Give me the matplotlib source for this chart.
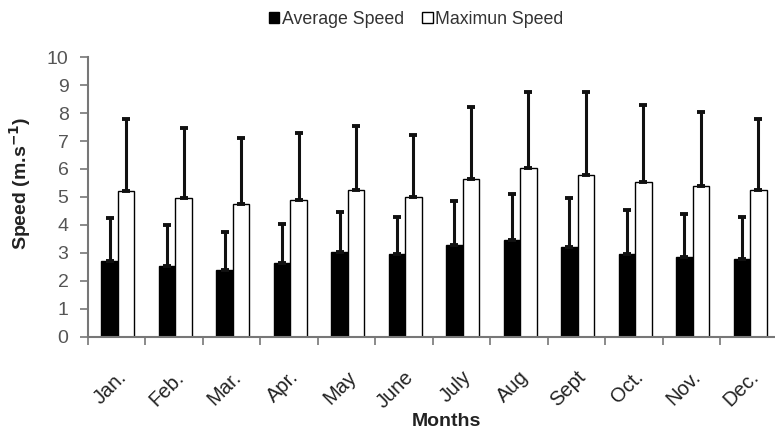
import numpy as np
import matplotlib.pyplot as plt
from matplotlib.transforms import ScaledTranslation

plt.rcParams['font.family'] = ['Liberation Sans', 'DejaVu Sans']

months = ['Jan.', 'Feb.', 'Mar.', 'Apr.', 'May', 'June', 'July', 'Aug', 'Sept', 'Oct.', 'Nov.', 'Dec.']
avg_speed = [2.7, 2.55, 2.4, 2.65, 3.05, 2.95, 3.3, 3.45, 3.2, 2.95, 2.85, 2.8]
avg_err = [1.55, 1.45, 1.35, 1.4, 1.4, 1.35, 1.55, 1.65, 1.75, 1.6, 1.55, 1.5]
max_speed = [5.2, 4.95, 4.75, 4.9, 5.25, 5.0, 5.65, 6.05, 5.8, 5.55, 5.4, 5.25]
max_err = [2.6, 2.5, 2.35, 2.4, 2.3, 2.2, 2.55, 2.7, 2.95, 2.75, 2.65, 2.55]

fig = plt.figure(figsize=(7.75, 4.32), dpi=100)
ax = fig.add_axes([0.1135, 0.22, 0.89, 0.648])

x = np.arange(len(months))
w = 0.287
off = 0.02
axis_col = '#777777'
err_kw = dict(ecolor='#111111', elinewidth=2.2, capsize=3, capthick=2.8)

ax.bar(x - w / 2 + off, avg_speed, w, color='black', edgecolor='black', linewidth=1,
       yerr=[np.zeros(len(x)), avg_err], error_kw=err_kw, label='Average Speed', zorder=2)
ax.bar(x + w / 2 + off, max_speed, w, color='white', edgecolor='black', linewidth=1,
       yerr=[np.zeros(len(x)), max_err], error_kw=err_kw, label='Maximun Speed', zorder=2)

ax.set_xlim(-0.5, len(months) - 0.5)
ax.set_ylim(0, 10)
ax.set_yticks(range(0, 11))
ax.tick_params(axis='y', labelsize=14, labelcolor='#555555', color=axis_col, length=6, width=1.2, pad=8)

# ticks at category boundaries, labels at centres
ax.set_xticks(np.arange(-0.5, len(months), 1.0), minor=False)
ax.set_xticklabels([])
ax.set_xticks(x, minor=True)
ax.set_xticklabels(months, minor=True, rotation=45, ha='right', rotation_mode='anchor',
                   fontsize=14.5, color='#222222')
shift = ScaledTranslation(7 / 100, 0, fig.dpi_scale_trans)
for lab in ax.get_xticklabels(minor=True):
    lab.set_transform(lab.get_transform() + shift)
ax.tick_params(axis='x', which='major', direction='out', length=6, width=1.2, color=axis_col)
ax.tick_params(axis='x', which='minor', length=0, pad=22)

for s in ['top', 'right']:
    ax.spines[s].set_visible(False)
for s in ['left', 'bottom']:
    ax.spines[s].set_color(axis_col)
    ax.spines[s].set_linewidth(1.5)

ax.set_xlabel('Months', fontsize=14, fontweight='bold', color='#222222', labelpad=6)
ax.xaxis.set_label_coords(0.52, -0.27)
ax.set_ylabel('Speed (m.s$^{\\mathbf{-1}}$)', fontsize=14, fontweight='bold', color='#222222')
ax.yaxis.set_label_coords(-0.08, 0.55)

fig.legend(loc='center', bbox_to_anchor=(0.537, 0.955), ncol=2, frameon=False, fontsize=12.8,
           handlelength=0.6, handleheight=0.6, handletextpad=0.15, columnspacing=1.0,
           labelcolor='#333333')

fig.savefig('out.png', dpi=100)
